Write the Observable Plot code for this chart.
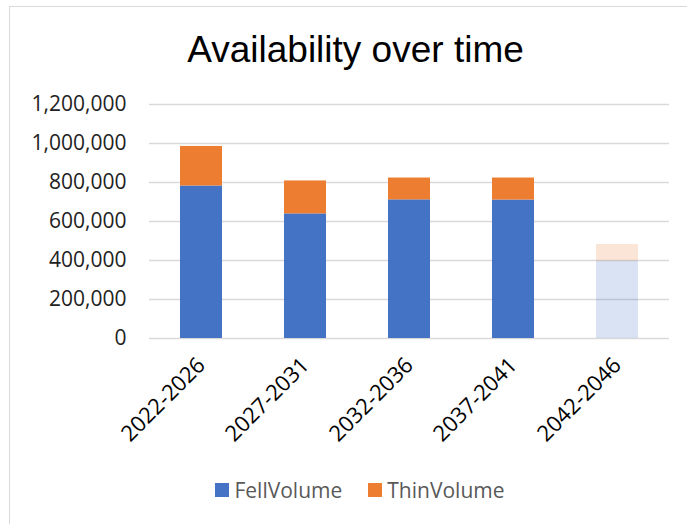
<!DOCTYPE html>
<html>
<head>
<meta charset="utf-8">
<script src="https://cdn.jsdelivr.net/npm/d3@7"></script>
<script src="https://cdn.jsdelivr.net/npm/@observablehq/plot@0.6"></script>
<style>
  html, body { margin: 0; padding: 0; background: #fff; }
  #wrap { position: relative; width: 687px; height: 524px; overflow: hidden; font-family: "Open Sans", sans-serif; }
  #frame { position: absolute; left: 9px; top: 6px; width: 720px; height: 560px; border: 1.5px solid #d9d9d9; box-sizing: border-box; }
  #title { position: absolute; left: 0; width: 711px; top: 31px; text-align: center; font-family: "Liberation Sans", Arial, sans-serif; font-size: 37px; line-height: 37px; color: #000; }
  #chart { position: absolute; left: 0; top: 80px; }
  #legend { position: absolute; left: 0; width: 720px; top: 476px; text-align: center; font-size: 21px; line-height: 26px; color: #595959; white-space: nowrap; }
  .item { display: inline-flex; align-items: center; margin: 0 13px; }
  .sw { display: inline-block; width: 14px; height: 14px; margin-right: 5px; }
</style>
</head>
<body>
<div id="wrap">
  <div id="frame"></div>
  <div id="title">Availability over time</div>
  <div id="chart"></div>
  <div id="legend"></div>
</div>
<script>
// Data
const periods = ["2022-2026", "2027-2031", "2032-2036", "2037-2041", "2042-2046"];
const fellVolume = [782000, 639000, 711000, 710000, 397000];
const thinVolume = [203000, 169000, 112000, 113000, 85000];
const seriesNames = ["FellVolume", "ThinVolume"];
const seriesColors = ["#4472c4", "#ed7d31"];
const yTicks = [0, 200000, 400000, 600000, 800000, 1000000, 1200000];
const provisionalPeriods = ["2042-2046"];

const rows = [];
periods.forEach((p, i) => {
  rows.push({period: p, series: seriesNames[0], value: fellVolume[i]});
  rows.push({period: p, series: seriesNames[1], value: thinVolume[i]});
});

const chart = Plot.plot({
  width: 687,
  height: 390,
  marginLeft: 149,
  marginRight: 18,
  marginTop: 24,
  marginBottom: 132,
  style: {fontFamily: "'Open Sans', sans-serif", background: "transparent"},
  x: {domain: periods, paddingInner: 0.6, paddingOuter: 0.3, label: null},
  y: {domain: [0, 1200000], label: null},
  color: {domain: seriesNames, range: seriesColors},
  marks: [
    Plot.gridY(yTicks, {stroke: "#d9d9d9", strokeOpacity: 1, strokeWidth: 1.5}),
    Plot.barY(rows, {
      x: "period", y: "value", fill: "series",
      fillOpacity: d => provisionalPeriods.includes(d.period) ? 0.2 : 1
    }),
    Plot.axisY(yTicks, {tickSize: 0, tickPadding: 23, tickFormat: d3.format(","), fontSize: 21, fill: "#222", label: null}),
    Plot.axisX({tickSize: 0, tickPadding: 23, tickRotate: -45, fontSize: 22, fill: "#000", label: null})
  ]
});
document.getElementById("chart").appendChild(chart);

const legend = document.getElementById("legend");
seriesNames.forEach((name, i) => {
  const item = document.createElement("span");
  item.className = "item";
  const sw = document.createElement("span");
  sw.className = "sw";
  sw.style.background = seriesColors[i];
  item.appendChild(sw);
  item.appendChild(document.createTextNode(name));
  legend.appendChild(item);
});
</script>
</body>
</html>
